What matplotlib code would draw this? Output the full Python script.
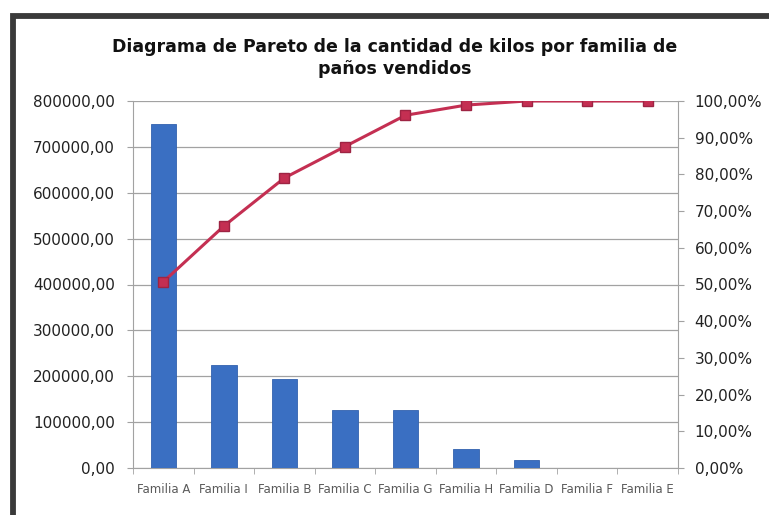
import numpy as np
import matplotlib.pyplot as plt
from matplotlib.patches import Rectangle
from matplotlib.ticker import FuncFormatter, MultipleLocator, FixedLocator

familias = ['Familia A', 'Familia I', 'Familia B', 'Familia C', 'Familia G',
            'Familia H', 'Familia D', 'Familia F', 'Familia E']
kilos = [750000, 224500, 194000, 126500, 126000, 41000, 16500, 0, 0]

total = sum(kilos)
acumulado = np.cumsum(kilos) / total * 100

W, H = 769, 515
fig = plt.figure(figsize=(W / 100, H / 100), dpi=100)
fig.patch.set_facecolor('white')

# marco oscuro del grafico (izquierda y arriba)
fig.add_artist(Rectangle((13 / W, -0.2), 1.5, (1 - 15.5 / H) + 0.2,
                         transform=fig.transFigure, fill=False,
                         ec='#3a3a3a', lw=4.2))

ax = fig.add_axes([133 / W, 1 - 468 / H, 545 / W, 367 / H])
x = np.arange(len(familias))

ax.bar(x, kilos, width=0.42, color='#3A6FC2', edgecolor='#3262AE',
       linewidth=0.6, zorder=3)
ax.set_xlim(-0.5, len(familias) - 0.5)
ax.set_ylim(0, 800000)
ax.yaxis.set_major_locator(MultipleLocator(100000))
ax.yaxis.set_major_formatter(
    FuncFormatter(lambda v, p: f'{v:.2f}'.replace('.', ',')))
ax.grid(axis='y', color='#a2a2a2', linewidth=0.9, zorder=0)

ax.set_xticks(x)
ax.set_xticklabels(familias, fontsize=8.5, color='#5a5a5a')
ax.xaxis.set_minor_locator(FixedLocator(np.arange(-0.5, len(familias), 1)))
ax.tick_params(axis='x', which='major', length=0, pad=11)
ax.tick_params(axis='x', which='minor', length=4, color='#a2a2a2')
ax.tick_params(axis='y', length=4, color='#a2a2a2', labelsize=11,
               labelcolor='#222222', pad=9)

for s in ['top', 'right']:
    ax.spines[s].set_visible(False)
for s in ['left', 'bottom']:
    ax.spines[s].set_color('#a2a2a2')

# eje secundario con el porcentaje acumulado
ax2 = ax.twinx()
ax2.plot(x, acumulado, color='#C42F52', linewidth=2.2, marker='s',
         markersize=7, markerfacecolor='#C42F52', markeredgecolor='#9E2443',
         zorder=4)
ax2.set_ylim(0, 100)
ax2.yaxis.set_major_locator(MultipleLocator(10))
ax2.yaxis.set_major_formatter(
    FuncFormatter(lambda v, p: f'{v:.2f}%'.replace('.', ',')))
ax2.tick_params(axis='y', length=4, color='#a2a2a2', labelsize=11,
                labelcolor='#222222', pad=8)
for s in ['top', 'left', 'bottom']:
    ax2.spines[s].set_visible(False)
ax2.spines['right'].set_color('#a2a2a2')

fig.text(395 / W, 1 - 58 / H,
         'Diagrama de Pareto de la cantidad de kilos por familia de\npaños vendidos',
         ha='center', va='center', fontsize=12.5, fontweight='bold',
         color='#111111', linespacing=1.35)

fig.savefig('out.png', dpi=100)
